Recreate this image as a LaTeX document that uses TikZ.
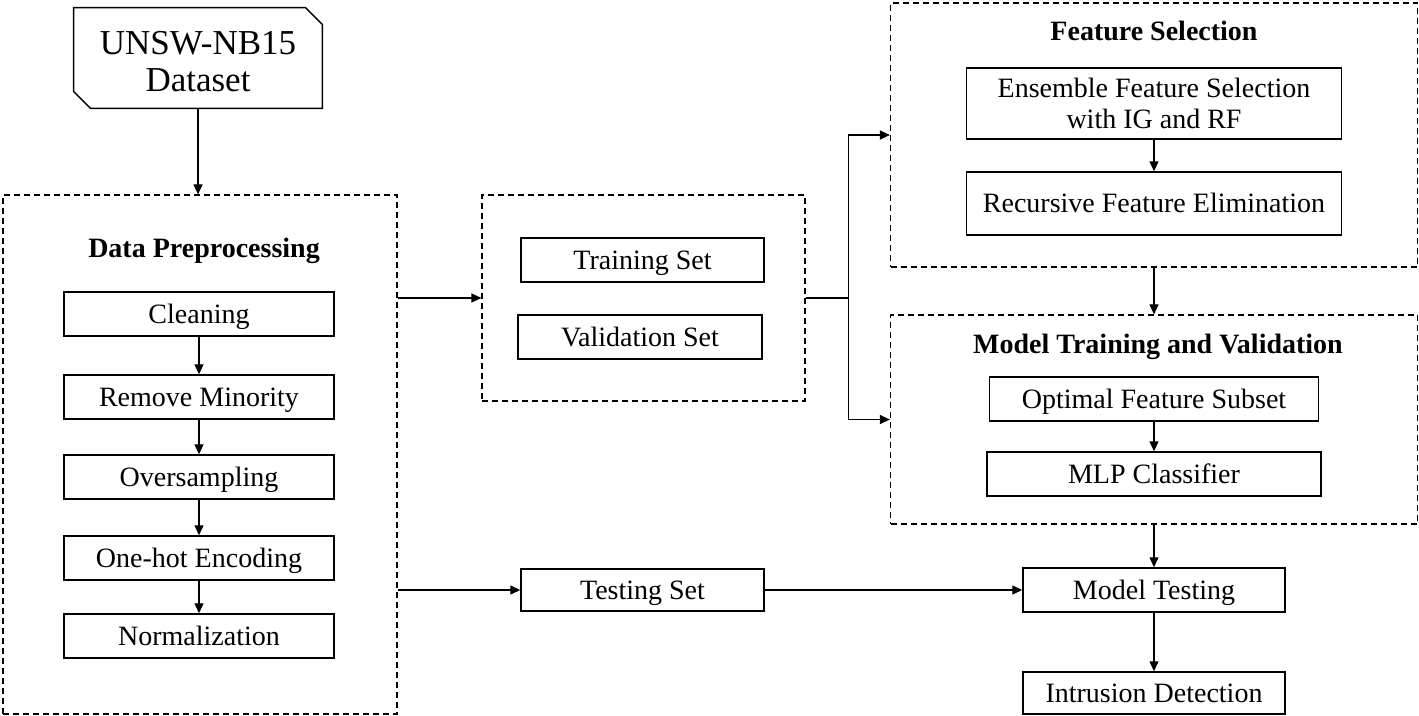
\documentclass[tikz,border=0pt]{standalone}
\usepackage{fontspec}
\setmainfont{Liberation Serif}
\usetikzlibrary{arrows.meta}

\begin{document}
\begin{tikzpicture}[x=0.5pt, y=-0.5pt,
    every node/.style={font=\fontsize{14}{15.5}\selectfont, align=center, inner sep=0pt},
    box/.style={draw, line width=0.7pt, minimum height=22pt, text height=9.5pt, text depth=0pt},
    dbox/.style={draw, dash pattern=on 3pt off 2pt, line width=0.6pt},
    title/.style={font=\fontsize{14}{15.5}\selectfont\bfseries, text height=9.5pt, text depth=0pt},
    arr/.style={-{Triangle[length=5pt,width=4.5pt]}, line width=0.6pt}]
  \useasboundingbox (0,0) rectangle (1419,716);

  \node[minimum width=124pt, minimum height=50pt, font=\fontsize{17.5}{18.5}\selectfont] (data) at (198,62) {UNSW-NB15\\Dataset};
  \draw[line width=0.7pt] ([yshift=2pt]data.north west) -- ([xshift=-8.5pt,yshift=2pt]data.north east)
    -- ([yshift=-6.5pt]data.north east) -- ([yshift=2pt]data.south east)
    -- ([xshift=8.5pt,yshift=2pt]data.south west) -- ([yshift=10.5pt]data.south west) -- cycle;

  \node[dbox, minimum width=197pt, minimum height=259.5pt] (pre) at (200,454.5) {};
  \node[title] (pretitle) at (204,248) {Data Preprocessing};
  \node[box, minimum width=135pt] (clean) at (199,314) {Cleaning};
  \node[box, minimum width=135pt] (minor) at (199,397) {Remove Minority};
  \node[box, minimum width=135pt] (over) at (199,477) {Oversampling};
  \node[box, minimum width=135pt] (onehot) at (199,558) {One-hot Encoding};
  \node[box, minimum width=135pt] (norm) at (199,636) {Normalization};

  \node[dbox, minimum width=161.5pt, minimum height=103pt] (split) at (643.5,298) {};
  \node[box, minimum width=121.5pt] (train) at (642.5,260) {Training Set};
  \node[box, minimum width=122pt] (valid) at (640,337) {Validation Set};
  \node[box, minimum width=121.5pt, minimum height=21pt] (test) at (642.5,590) {Testing Set};

  \node[dbox, minimum width=263.5pt, minimum height=132pt] (fs) at (1154,135) {};
  \node[title] (fstitle) at (1154,31) {Feature Selection};
  \node[box, minimum width=187.5pt, minimum height=35.5pt, text height=25pt] (ens) at (1154,103.5) {Ensemble Feature Selection\\with IG and RF};
  \node[box, minimum width=187.5pt, minimum height=31.5pt] (rfe) at (1154,203.5) {Recursive Feature Elimination};

  \node[dbox, minimum width=263.5pt, minimum height=104.5pt] (mt) at (1154,419.5) {};
  \node[title] (mttitle) at (1158,344) {Model Training and Validation};
  \node[box, minimum width=164.5pt] (opt) at (1154,399) {Optimal Feature Subset};
  \node[box, minimum width=167pt] (mlp) at (1154,474) {MLP Classifier};

  \node[box, minimum width=131pt] (mtest) at (1154,590) {Model Testing};
  \node[box, minimum width=131pt, minimum height=21pt] (ids) at (1154,693) {Intrusion Detection};

  \draw[arr] ([yshift=2pt]data.south) -- (data.south |- pre.north);
  \foreach \a/\b in {clean/minor, minor/over, over/onehot, onehot/norm}
    \draw[arr] (\a) -- (\b);
  \draw[arr] (split.west -| pre.east) -- (split.west);
  \draw[arr] (test.west -| pre.east) -- (test.west);
  \draw[line width=0.6pt] (split.east) -- ++(43,0) coordinate (fork);
  \draw[arr] (fork) |- (fs.west);
  \draw[arr] (fork) |- (mt.west);
  \draw[arr] (ens) -- (rfe);
  \draw[arr] (fs) -- (mt);
  \draw[arr] (opt) -- (mlp);
  \draw[arr] (mt) -- (mtest);
  \draw[arr] (test) -- (mtest);
  \draw[arr] (mtest) -- (ids);
\end{tikzpicture}
\end{document}
